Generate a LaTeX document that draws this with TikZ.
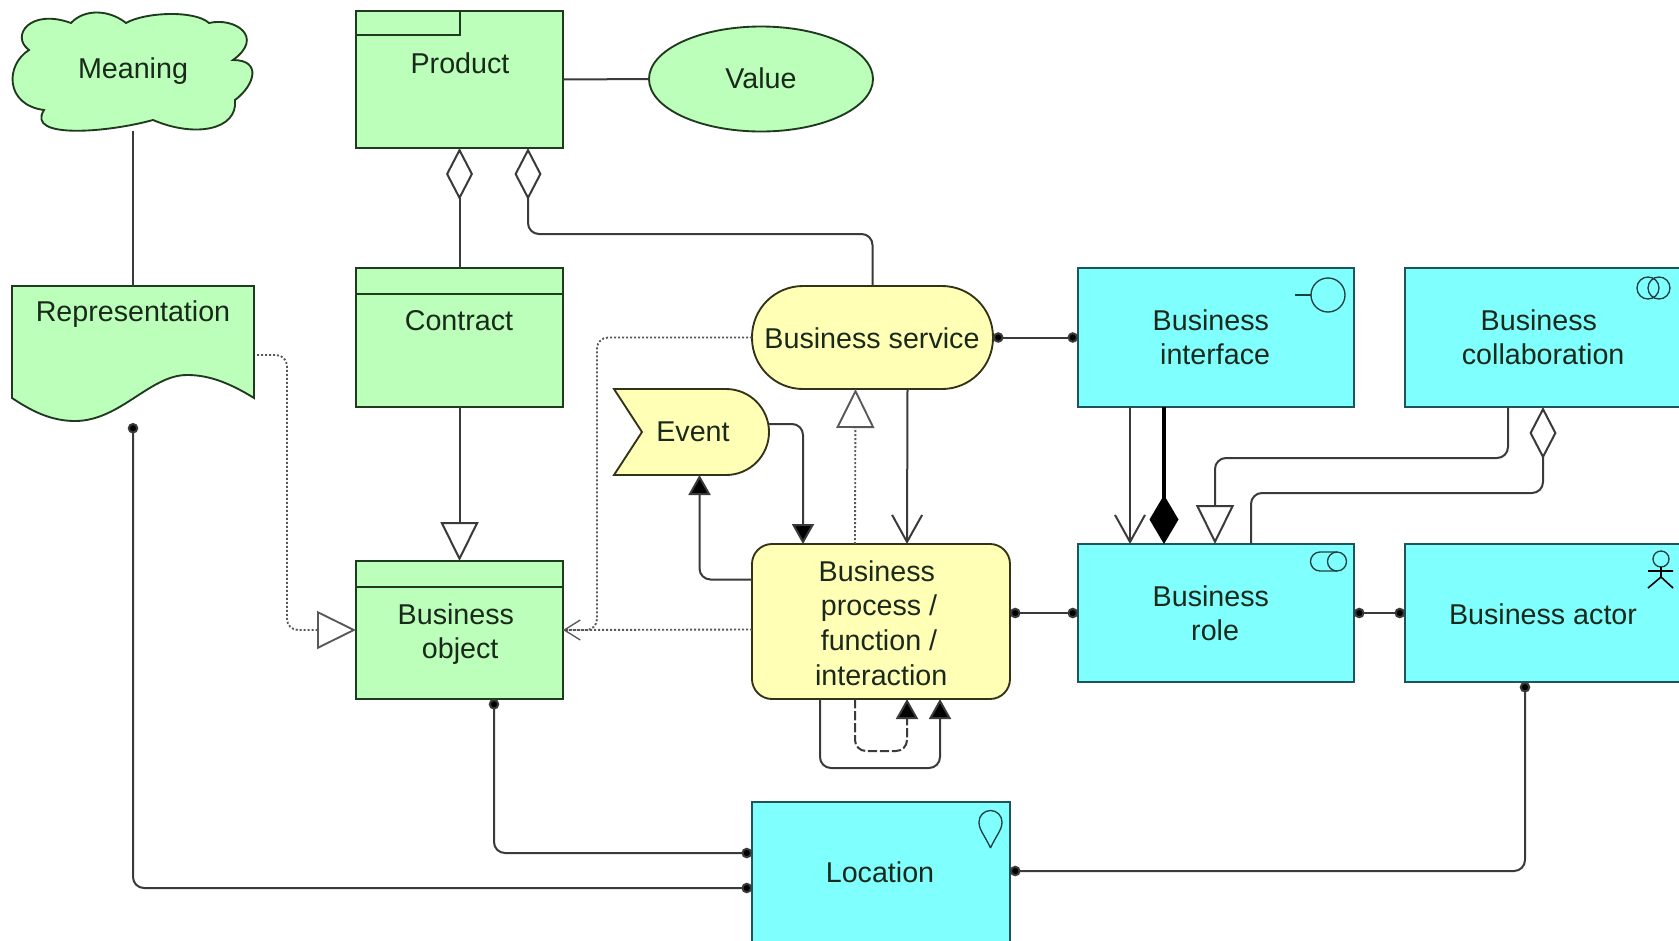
\documentclass[tikz,border=0pt]{standalone}
\usepackage{fontspec}
\setmainfont{Liberation Sans}
\usetikzlibrary{arrows.meta,shapes.geometric,calc}
\def\pxu{0.75pt}
\newcommand{\shiftL}[1]{#1\hspace*{3.2pt}}
\newcommand{\shiftR}[1]{\hspace*{3.2pt}#1}
\definecolor{grn}{HTML}{BBFFBB}
\definecolor{yel}{HTML}{FFFFB5}
\definecolor{cyn}{HTML}{80FFFF}
\definecolor{edgeG}{HTML}{1F3A1F}
\definecolor{edgeC}{HTML}{1F5558}
\definecolor{edgeY}{HTML}{33331A}
\definecolor{lineC}{HTML}{3A3A3A}
\definecolor{txtC}{HTML}{1A2A1A}
\tikzset{
  pxsize/.style 2 args={minimum width=#1*\pxu,minimum height=#2*\pxu},
  shapebase/.style={inner sep=0pt,outer sep=0pt,anchor=north west,line width=1.7pt},
  greenbox/.style={shapebase,rectangle,draw=edgeG,fill=grn},
  cyanbox/.style={shapebase,rectangle,draw=edgeC,fill=cyn},
  yellowbox/.style={shapebase,rectangle,draw=edgeY,fill=yel},
  ghost/.style={inner sep=0pt,outer sep=0pt,anchor=north west,rectangle},
  greenshape/.style={draw=edgeG,fill=grn,line width=1.4pt},
  yellowshape/.style={draw=edgeY,fill=yel,line width=1.4pt},
  labeltext/.style={font=\fontsize{21.5}{25.5}\selectfont,text=txtC,align=center,inner sep=0pt},
  conn/.style={draw=lineC,line width=1.5pt,rounded corners=11*\pxu},
  dotline/.style={conn,draw=lineC!85,line width=1.4pt,dash pattern=on 1.5pt off 1.5pt},
  icon/.style={draw=black!75!cyn,line width=1pt},
  dots/.style={{Circle[length=10.5*\pxu,width=10.5*\pxu,fill=black]}-{Circle[length=10.5*\pxu,width=10.5*\pxu,fill=black]}},
  aggstart/.style={{Diamond[length=52*\pxu,width=27*\pxu,fill=white]}-},
  compend/.style={-{Diamond[length=49*\pxu,width=29*\pxu,fill=black]}},
  genend/.style={-{Triangle[length=39*\pxu,width=38*\pxu,fill=white]}},
  solidend/.style={-{Triangle[length=20*\pxu,width=22*\pxu,fill=black]}},
  barbend/.style={-{Straight Barb[length=27*\pxu,width=30*\pxu]}},
  smallbarb/.style={-{Straight Barb[length=16*\pxu,width=20*\pxu,line width=1pt]}}
}
\begin{document}
\begin{tikzpicture}[x=0.75pt,y=-0.75pt]
\useasboundingbox (0,0) rectangle (1679,940);
\clip (0,0) rectangle (1679,940);
\fill[white] (0,0) rectangle (1679,940);

% shapes
\node[ghost,pxsize={241}{120}] (meaning) at (12,11) {};
\path[greenshape] (29,50) .. controls (10,36) and (30,8) .. (71,23)
  .. controls (85,8) and (110,10) .. (126,23)
  .. controls (145,12) and (195,10) .. (209,23)
  .. controls (235,17) and (265,37) .. (233,60)
  .. controls (262,60) and (255,85) .. (235,100)
  .. controls (238,130) and (195,138) .. (153,120)
  .. controls (110,132) and (25,140) .. (44,110)
  .. controls (5,105) and (5,65) .. (29,50) -- cycle;

\node[ghost,pxsize={242}{137}] (rep) at (12,286) {};
\path[greenshape] (12,286) -- (254,286) -- (254,398)
  .. controls (225,380) and (205,375) .. (187,375)
  .. controls (150,375) and (120,421) .. (75,421)
  .. controls (50,421) and (30,410) .. (12,398) -- cycle;

\node[greenbox,pxsize={207}{137}] (product) at (356,11) {};
\draw[edgeG,line width=1.7pt] (356,35) -| (460,11);
\node[greenbox,pxsize={207}{139}] (contract) at (356,268) {};
\draw[edgeG,line width=1.7pt] (contract.north west |- 0,294) -- (contract.north east |- 0,294);
\node[greenbox,pxsize={207}{138}] (object) at (356,561) {};
\draw[edgeG,line width=1.7pt] (object.north west |- 0,587) -- (object.north east |- 0,587);
\node[inner sep=0pt,outer sep=0pt,ellipse,draw=edgeG,fill=grn,line width=1.4pt,pxsize={224}{105}] (value) at (761,79) {};

\node[yellowbox,line width=1.4pt,rounded corners=51*\pxu,pxsize={241}{103}] (service) at (752,286) {};
\node[ghost,pxsize={155}{86}] (event) at (614,389) {};
\path[yellowshape] (614,389) -- (726,389) arc (-90:90:43) -- (614,475) -- (642,432) -- cycle;
\node[yellowbox,line width=1.4pt,rounded corners=20*\pxu,pxsize={258}{155}] (process) at (752,544) {};

\node[cyanbox,pxsize={276}{139}] (interface) at (1078,268) {};
\node[cyanbox,pxsize={278}{139}] (collab) at (1405,268) {};
\node[cyanbox,pxsize={276}{138}] (role) at (1078,544) {};
\node[cyanbox,pxsize={278}{138}] (actor) at (1405,544) {};
\node[cyanbox,pxsize={258}{142}] (location) at (752,802) {};

% icons
\draw[icon] (1295,295) -- (1311,295);
\draw[icon] (1328,295) circle[radius=17];
\draw[icon] (1648,288) circle[radius=11];
\draw[icon] (1659,288) circle[radius=11];
\draw[icon] (1320,552) arc (-90:-270:9.5) -- (1337,571) arc (90:-90:9.5) -- cycle;
\draw[icon] (1337,552) arc (-90:-270:9.5);
\draw[icon] (1661,559) circle[radius=8];
\draw[icon,draw=black,line width=1.2pt] (1661,567) -- (1661,577) (1648,571) -- (1673,571) (1648,588) -- (1661,577) -- (1673,588);
\draw[icon] (990.5,848) .. controls (984,834) and (979,830) .. (979,822) arc (180:360:11.5) .. controls (1002,830) and (997,834) .. (990.5,848);

% labels
\node[labeltext] (tMeaning) at (133,71) {Meaning};
\node[labeltext] (tProduct) at (460,63) {Product};
\node[labeltext] (tValue) at (761,78) {Value};
\node[labeltext] (tRep) at (133,314) {Representation};
\node[labeltext] (tContract) at (459,321) {Contract};
\node[labeltext] (tObject) at (458,634) {\shiftL{Business}\\\shiftR{object}};
\node[labeltext] (tService) at (872,338) {Business service};
\node[labeltext] (tEvent) at (693,432) {Event};
\node[labeltext,font=\fontsize{21.5}{26}\selectfont] (tProcess) at (879,623) {\shiftL{Business}\\\shiftL{process /}\\\shiftL{function /}\\\shiftR{interaction}};
\node[labeltext] (tInterface) at (1213,337) {\shiftL{Business}\\\shiftR{interface}};
\node[labeltext] (tCollab) at (1541,337) {\shiftL{Business}\\\shiftR{collaboration}};
\node[labeltext] (tRole) at (1213,613) {\shiftL{Business}\\\shiftR{role}};
\node[labeltext] (tActor) at (1543,614) {Business actor};
\node[labeltext] (tLocation) at (880,872) {Location};

% connectors
\draw[conn] (meaning.south) -- (rep.north -| meaning.south);
\draw[conn] (product.east) -- (value.west);
\draw[conn,aggstart] (product.south) -- (contract.north);
\draw[conn,aggstart] ([xshift=68.5*\pxu]product.south) |- (0,234 -| service.north) -- (service.north);
\draw[conn,genend] (contract.south) -- (object.north);
\draw[dotline,genend] ([xshift=-26*\pxu]process.north) -- ([xshift=-17*\pxu]service.south);
\draw[conn,barbend] ([xshift=35*\pxu]service.south) -- ([xshift=26*\pxu]process.north);
\draw[conn,solidend] ([yshift=8*\pxu]event.east) -| ([xshift=-78*\pxu]process.north);
\draw[conn,solidend] ([yshift=42*\pxu]process.west) -| ([xshift=8*\pxu]event.south);
\draw[dotline] ([yshift=-8*\pxu]process.west) -- (object.east);
\draw[dotline,smallbarb] (service.west) -| (597,630) -- (object.east);
\draw[dotline,genend] (rep.east |- 0,355) ++(3,0) -| (287,630) -- (object.west);
\draw[conn,dots] (service.east) -- (interface.west);
\draw[conn,dots] (process.east |- role.west) -- (role.west);
\draw[conn,dots] (role.east) -- (actor.west);
\draw[conn,barbend] ([xshift=-86*\pxu]interface.south) -- ([xshift=-86*\pxu]role.north);
\draw[conn,compend,draw=black,line width=2.6pt] ([xshift=-52*\pxu]interface.south) -- ([xshift=-52*\pxu]role.north);
\draw[conn,genend] ([xshift=-36*\pxu]collab.south) |- (1400,458) -| ([xshift=-1*\pxu]role.north);
\draw[conn,aggstart] ([xshift=-1*\pxu]collab.south) |- (1400,493) -| ([xshift=35*\pxu]role.north);
\draw[conn,dots] ([xshift=-69*\pxu]object.south east) |- ([yshift=20*\pxu]location.west);
\draw[conn,dots] (rep.south) |- ([yshift=-15*\pxu]location.west);
\draw[conn,dots] ([yshift=2*\pxu]location.east) -| ([xshift=-19*\pxu]actor.south);
\draw[conn,solidend] ([xshift=-61*\pxu]process.south) |- (900,768) -| ([xshift=59*\pxu]process.south);
\draw[conn,solidend,dash pattern=on 7pt off 2pt] ([xshift=-26*\pxu]process.south) |- (880,751) -| ([xshift=26*\pxu]process.south);
\end{tikzpicture}
\end{document}
